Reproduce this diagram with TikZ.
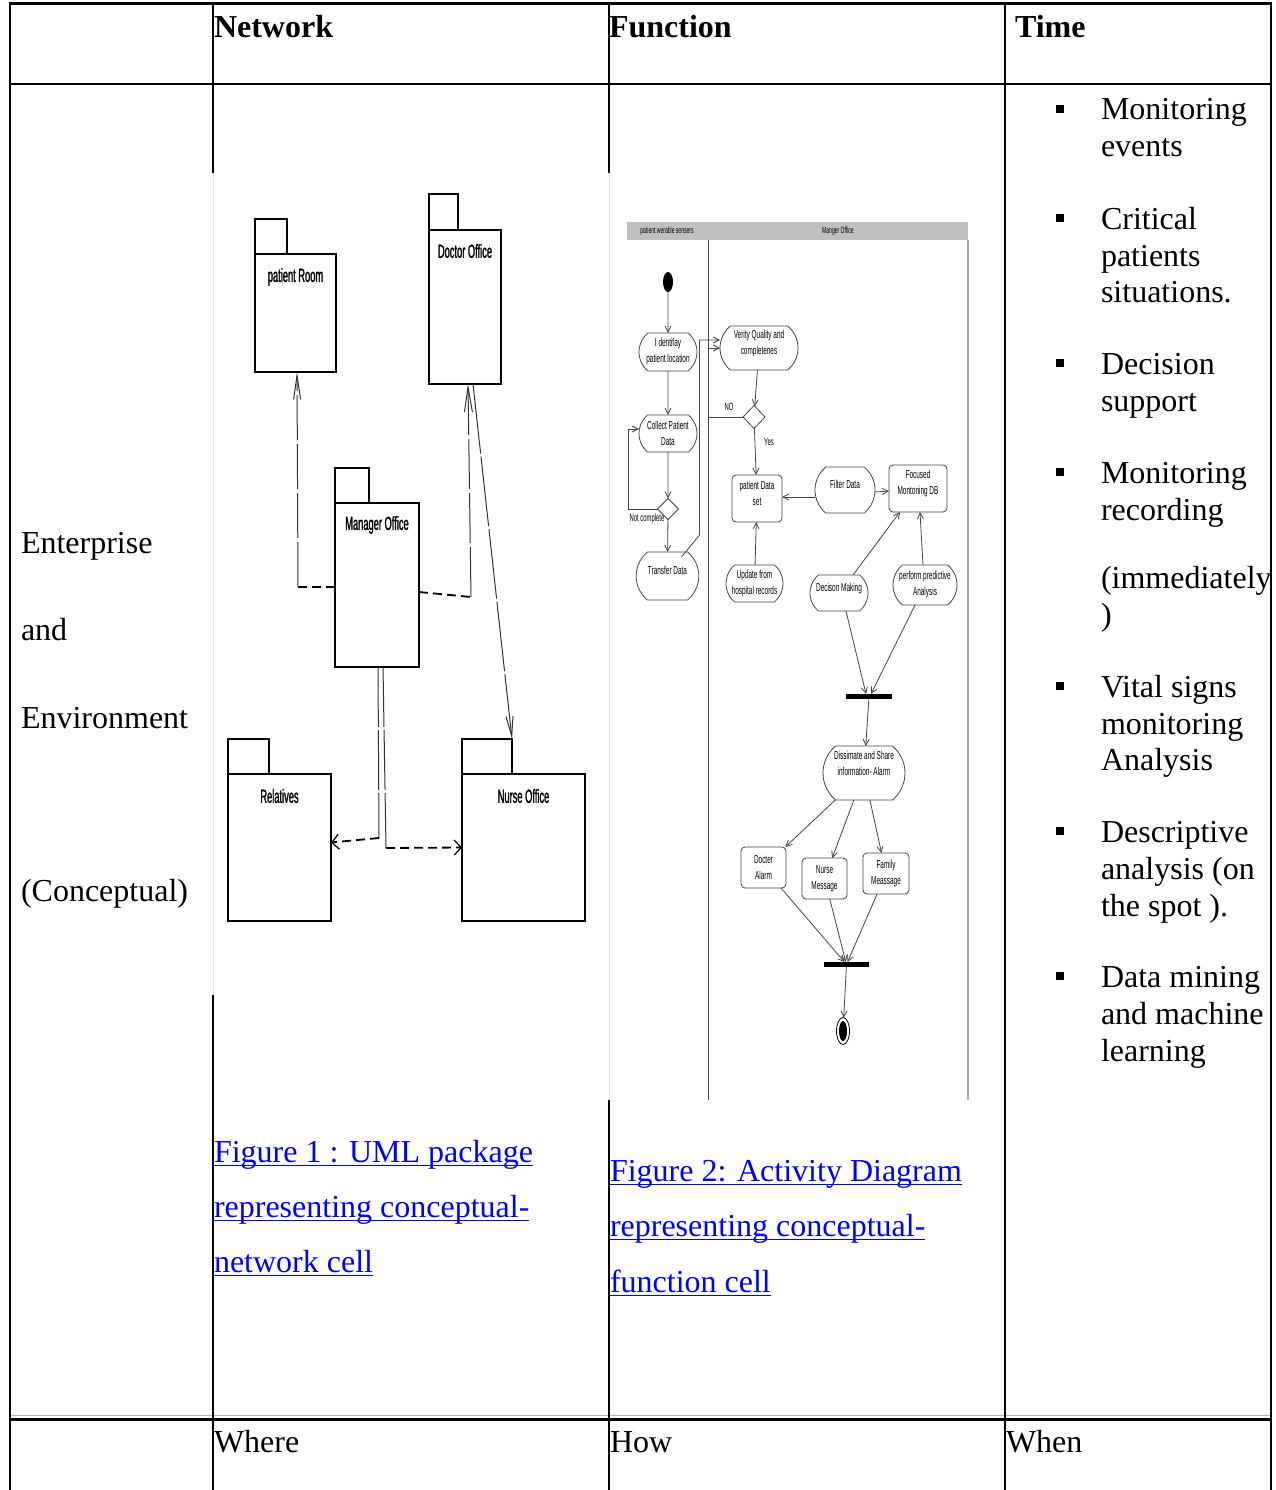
\documentclass[tikz,border=0pt]{standalone}
\usepackage{fontspec}
\setmainfont{Liberation Serif}
\newfontfamily\umlfont[FakeStretch=0.56]{Liberation Sans}
\newfontfamily\pkgfont[FakeStretch=0.49,FakeBold=1.2]{Liberation Sans}
\usetikzlibrary{arrows.meta,shapes.misc,shapes.geometric}
\definecolor{linkblue}{RGB}{0,0,255}
\definecolor{actline}{RGB}{70,70,70}
\definecolor{lanegray}{RGB}{192,192,192}

\begin{document}
\begin{tikzpicture}[x=1pt,y=-1pt,
  every node/.style={inner sep=0pt,outer sep=0pt},
  cell/.style={anchor=base west,font=\fontsize{32}{37}\selectfont},
  headcell/.style={anchor=base west,font=\fontsize{32}{37}\selectfont\bfseries},
  figcap/.style={anchor=base west,text=linkblue,font=\fontsize{32}{37}\selectfont},
  bulletmark/.style={fill=black,minimum size=7.5pt},
  gridline/.style={line width=1.8pt},
  pkg/.style={draw,line width=1.2pt,rectangle},
  pkgedge/.style={line width=2.3pt},
  pkgtxt/.style={font=\pkgfont\fontsize{19}{22}\selectfont},
  pkgline/.style={line width=1pt,black!80},
  pkgdash/.style={line width=1.8pt,dash pattern=on 9pt off 5pt},
  act/.style={draw=actline,line width=0.8pt,rounded rectangle,rounded rectangle arc length=100,align=center,font=\umlfont\fontsize{11.5}{16}\selectfont},
  abox/.style={draw=actline,line width=0.8pt,rectangle,rounded corners=4pt,align=center,font=\umlfont\fontsize{11.5}{16}\selectfont},
  atxt/.style={align=center,font=\umlfont\fontsize{11.5}{16}\selectfont},
  asmall/.style={font=\umlfont\fontsize{10.5}{12}\selectfont},
  lanetxt/.style={font=\umlfont\fontsize{9}{10}\selectfont},
  flow/.style={draw=actline,line width=0.8pt,-{Straight Barb[length=6pt,width=6pt]}},
  syncbar/.style={fill=black,rectangle},
  choice/.style={draw=actline,line width=0.8pt,diamond},
]
\useasboundingbox[fill=white] (0,0) rectangle (1275,1490);

% ---------------- table rules ----------------
\draw[line width=3pt] (9,3.5) -- (1272,3.5);
\draw[line width=2.6pt] (9,84) -- (1272,84);
\draw[black!30,line width=1pt] (10,1415) -- (1271,1415);
\draw[line width=3pt] (9,1419.5) -- (1272,1419.5);
\draw[line width=2pt] (10,2) -- (10,1490);
\draw[line width=2pt] (1271,2) -- (1271,1490);
\draw[gridline] (213,4) -- (213,173);
\draw[gridline] (213,995) -- (213,1490);
\draw[black!12,line width=1pt] (213,173) -- (213,995);
\draw[gridline] (609,4) -- (609,173);
\draw[gridline] (609,1100) -- (609,1490);
\draw[black!12,line width=1pt] (609,173) -- (609,1100);
\draw[gridline] (1005,4) -- (1005,1490);

% ---------------- header row ----------------
\node[headcell] (hnet) at (214,38) {Network};
\node[headcell] (hfun) at (609,38) {Function};
\node[headcell] (htime) at (1015,38) {Time};

% ---------------- first column ----------------
\node[cell] (ent) at (21,553) {Enterprise};
\node[cell] (andw) at (21,640) {and};
\node[cell] (env) at (21,728) {Environment};
\node[cell] (concept) at (21,901) {(Conceptual)};

% ---------------- time column ----------------
\foreach \yy [count=\i] in {109,218,363,472,686,831,976}
  \node[bulletmark] (bul\i) at (1060,\yy) {};
\foreach \yy/\txt [count=\i] in {120/{Monitoring},157/{events},
    229/{Critical},266/{patients},302/{situations.},
    374/{Decision},411/{support},
    483/{Monitoring},520/{recording},588/{(immediately},625/{)},
    697/{Vital signs},734/{monitoring},770/{Analysis},
    842/{Descriptive},879/{analysis (on},916/{the spot ).},
    987/{Data mining},1024/{and machine},1061/{learning}}
  \node[cell] (tl\i) at (1101,\yy) {\txt};

% ---------------- captions ----------------
\node[figcap] (capa1) at (214,1162) {Figure 1 : UML package~};
\node[figcap] (capa2) at (214,1217) {representing conceptual-};
\node[figcap] (capa3) at (214,1272) {network cell};
\node[figcap] (capb1) at (610,1181) {Figure 2: Activity Diagram~};
\node[figcap] (capb2) at (610,1236) {representing conceptual-};
\node[figcap] (capb3) at (610,1292) {function cell};
\foreach \n in {capa1,capa2,capa3,capb1,capb2,capb3}
  \draw[linkblue,line width=1.3pt] ([yshift=-3.5pt]\n.base west) -- ([yshift=-3.5pt]\n.base east);

% ---------------- last row ----------------
\node[cell] (where) at (214,1452) {Where};
\node[cell] (how) at (610,1452) {How};
\node[cell] (when) at (1006,1452) {When};

% ---------------- UML package diagram ----------------
\node[pkg,minimum width=81pt,minimum height=118pt] (proom) at (295.5,313) {};
\node[pkg,minimum width=72pt,minimum height=154pt] (docoff) at (465,307) {};
\node[pkg,minimum width=84pt,minimum height=164pt] (mgr) at (377,585) {};
\node[pkg,minimum width=103pt,minimum height=147pt] (rel) at (279.5,847.5) {};
\node[pkg,minimum width=123pt,minimum height=147pt] (nurseo) at (523.5,847.5) {};
\foreach \n/\tw/\th in {proom/32/35,docoff/29/36,mgr/34/35,rel/41/35,nurseo/50/35}{
  \draw[line width=1.2pt] (\n.north west) -- ++(0,-\th) coordinate (\n tl) -- ++(\tw,0) coordinate (\n tr) -- ++(0,\th);
  \draw[line width=2pt] (\n tl) -- (\n tr);
  \draw[pkgedge] (\n.north west) -- (\n.north east);
  \draw[pkgedge] (\n.south west) -- (\n.south east);
}
\node[pkgtxt] (proomt) at ([yshift=-23pt]proom.north) {patient Room};
\node[pkgtxt] (docofft) at ([yshift=-21pt]docoff.north) {Doctor Office};
\node[pkgtxt] (mgrt) at ([yshift=-22pt]mgr.north) {Manager Office};
\node[pkgtxt] (relt) at ([yshift=-22pt]rel.north) {Relatives};
\node[pkgtxt] (nurseot) at ([yshift=-22pt]nurseo.north) {Nurse Office};

% dependencies
\coordinate (k1) at (298,587);
\draw[pkgdash] ([yshift=-2pt]mgr.west) -- (k1);
\draw[pkgline,dash pattern=on 45pt off 4pt,-{Straight Barb[length=24pt,width=7pt]}] (k1) -- ([xshift=1.5pt]proom.south);
\coordinate (k2) at (471,597);
\draw[pkgdash] ([yshift=-7pt]mgr.east) -- (k2);
\draw[pkgline,dash pattern=on 50pt off 4pt,-{Straight Barb[length=25pt,width=8pt]}] (k2) -- ([xshift=3pt]docoff.south);
\draw[pkgline,dash pattern=on 70pt off 3pt,-{Straight Barb[length=20pt,width=7pt]}] ([xshift=8pt]docoff.south) -- (nurseotr);
\coordinate (k3) at (379,838);
\draw[pkgline,dash pattern=on 60pt off 3pt] ([xshift=1pt]mgr.south) -- (k3);
\draw[pkgdash,-{Straight Barb[length=7pt,width=15pt,line width=1.2pt]}] (k3) -- ([yshift=5pt]rel.east);
\coordinate (k4) at (386,848);
\draw[pkgline,dash pattern=on 60pt off 3pt] ([xshift=6pt]mgr.south) -- (k4);
\draw[pkgdash,-{Straight Barb[length=7pt,width=15pt,line width=1.2pt]}] (k4) -- (nurseo.west);

% ---------------- activity diagram ----------------
\fill[lanegray] (627,222) rectangle (968,240);
\node[lanetxt] (lane1) at (667,231) {patient werable sensers};
\node[lanetxt] (lane2) at (838,231.5) {Manger Office};
\draw[actline,line width=0.8pt] (708,240) -- (708,1100);
\draw[black!35,line width=1.6pt] (968,240) -- (968,1100);

\node[fill=black,ellipse,minimum width=10pt,minimum height=20pt] (start) at (668,282) {};
\node[act,minimum width=58pt,minimum height=38pt] (ident) at (668,352) {I dentifay\\patient location};
\node[act,minimum width=78pt,minimum height=44pt,label={[atxt,yshift=4pt]center:{Verity Quality and\\completenes}}] (verity) at (759,348) {};
\node[act,minimum width=58pt,minimum height=37pt] (collect) at (668,433.5) {Collect Patient\\Data};
\node[choice,minimum width=21pt,minimum height=21pt] (d2) at (668,509) {};
\node[act,minimum width=59pt,minimum height=48pt,label={[atxt,yshift=6pt]center:Transfer Data}] (transfer) at (667.5,576) {};
\node[choice,minimum width=22pt,minimum height=23pt] (d1) at (754,417) {};
\node[abox,minimum width=50pt,minimum height=47pt,label={[atxt,yshift=5.5pt]center:{patient Data\\set}}] (pds) at (757,498.5) {};
\node[act,minimum width=58pt,minimum height=46pt,label={[atxt,yshift=6pt]center:Filter Data}] (filter) at (845,490) {};
\node[abox,minimum width=58pt,minimum height=47pt,label={[atxt,yshift=4.5pt]center:{Focused\\Montoning DB}}] (focused) at (918,488.5) {};
\node[act,minimum width=57pt,minimum height=37pt] (update) at (754.5,583.5) {Update from\\hospital records};
\node[act,minimum width=58pt,minimum height=36pt,label={[atxt,yshift=4pt]center:Decison Making}] (decide) at (839,593) {};
\node[act,minimum width=64pt,minimum height=40pt] (predict) at (925,585) {perform predictive\\Analysis};
\node[syncbar,minimum width=46pt,minimum height=5pt] (bar1) at (869,696.5) {};
\node[act,minimum width=82pt,minimum height=54pt,label={[atxt,yshift=9.5pt]center:{Dissimate and Share\\information- Alarm}}] (dissim) at (864,773) {};
\node[abox,minimum width=45pt,minimum height=41pt] (docter) at (763.5,867.5) {Docter\\Alarm};
\node[abox,minimum width=45pt,minimum height=41pt] (nurse) at (824.5,878.5) {Nurse\\Message};
\node[abox,minimum width=46pt,minimum height=41pt] (family) at (886,873.5) {Family\\Meassage};
\node[syncbar,minimum width=45pt,minimum height=5pt] (bar2) at (846.5,964.5) {};
\node[draw=black,line width=0.8pt,ellipse,minimum width=13pt,minimum height=27pt] (finish) at (843,1031) {};
\node[fill=black,ellipse,minimum width=8pt,minimum height=20pt] (finishdot) at (843,1031) {};

\node[asmall] (nolbl) at (729,407) {NO};
\node[asmall] (yeslbl) at (769,442) {Yes};
\node[asmall] (notcomp) at (647,519) {Not complete};

\draw[flow] (start) -- (ident);
\draw[flow] (ident) -- (collect);
\draw[flow] (collect) -- (d2);
\draw[flow] (d2) -- (transfer);
\draw[flow] (d2.west) -- ++(-29,0) |- ([yshift=4.5pt]collect.west);
\draw[flow] ([xshift=14pt,yshift=-5pt]transfer.north) -- ++(18,-22) |- ([yshift=8pt]verity.west);
\draw[flow] (verity) -- (d1);
\draw[flow] (d1.west) -- ++(-35,0) |- (verity.west);
\draw[flow] (d1) -- (pds);
\draw[flow] ([yshift=-7pt]filter.west) -- ([yshift=1.5pt]pds.east);
\draw[flow] ([yshift=-2pt]filter.east) -- ([yshift=-2.5pt]focused.west);
\draw[flow] (update) -- (pds);
\draw[flow] ([xshift=14pt]decide.north) -- ([xshift=-18pt]focused.south);
\draw[flow] ([xshift=-2pt]predict.north) -- ([xshift=2pt]focused.south);
\draw[flow] ([xshift=7pt]decide.south) -- ([xshift=-3pt]bar1.north);
\draw[flow] ([xshift=-10pt]predict.south) -- ([xshift=2pt]bar1.north);
\draw[flow] (bar1) -- (dissim);
\draw[flow] (dissim) -- (docter);
\draw[flow] (dissim) -- (nurse);
\draw[flow] (dissim) -- (family);
\draw[flow] (docter) -- (bar2);
\draw[flow] (nurse) -- (bar2);
\draw[flow] (family) -- (bar2);
\draw[flow] (bar2) -- (finish);
\end{tikzpicture}
\end{document}
